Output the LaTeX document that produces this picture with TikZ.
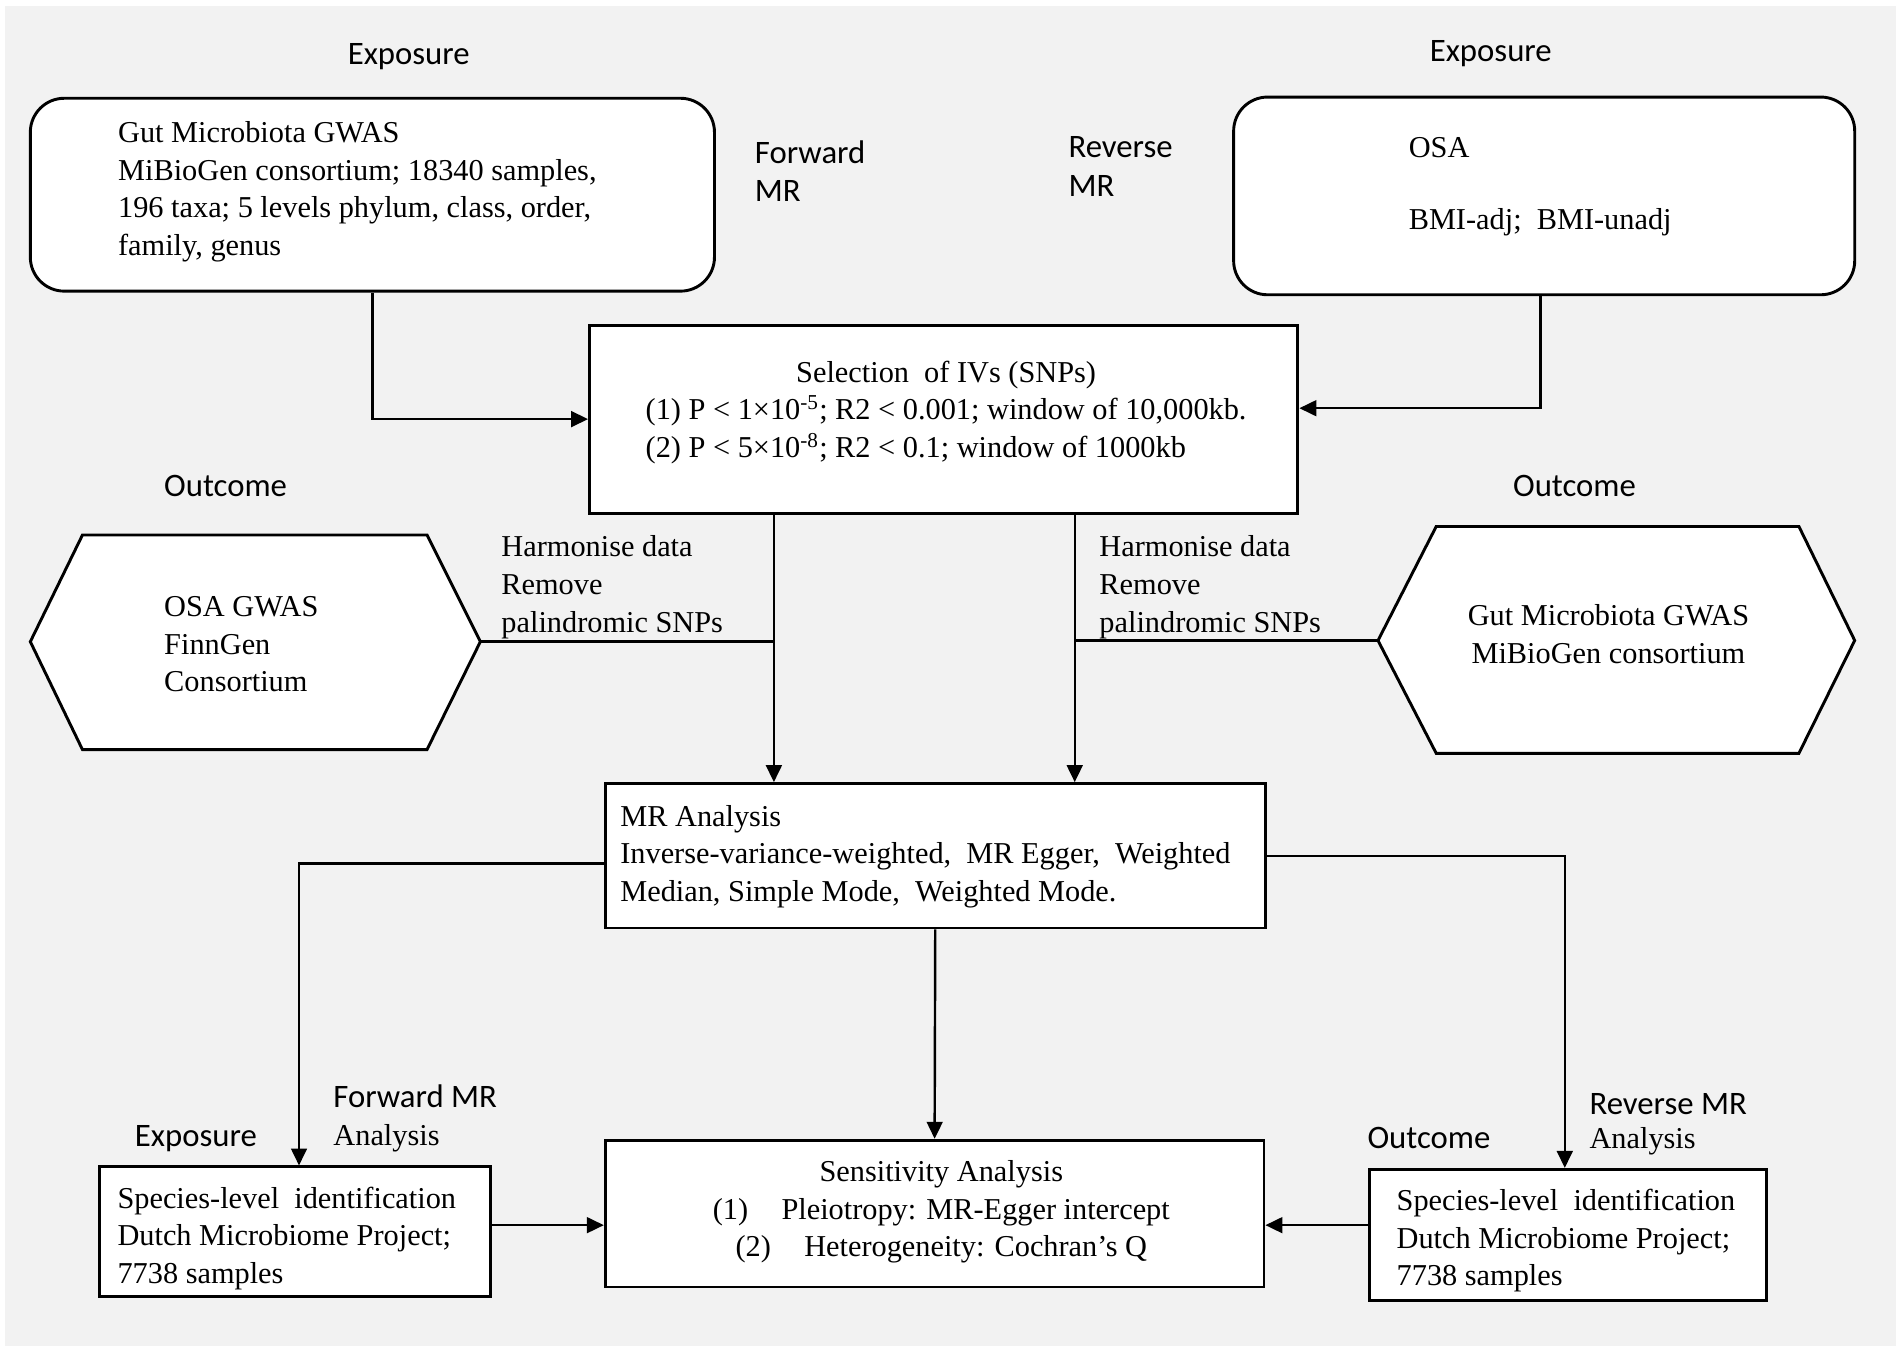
\documentclass[tikz,border=0pt]{standalone}
\usepackage{fontspec}
\setmainfont{Liberation Serif}
\newfontfamily\labfont{Carlito}
\usetikzlibrary{arrows.meta}
\definecolor{bggrey}{HTML}{F2F2F2}
\begin{document}
\begin{tikzpicture}[x=0.5pt,y=-0.5pt,
  box/.style={draw=black, line width=1.2pt, fill=white, inner sep=0pt},
  rbox/.style={box, rounded corners=14pt},
  txt/.style={font=\fontsize{12.5}{15.5}\selectfont, align=left, inner sep=0pt},
  ctxt/.style={font=\fontsize{12.5}{15.5}\selectfont, align=center, inner sep=0pt},
  lbl/.style={font=\labfont\fontsize{13.5}{16}\selectfont, align=left, inner sep=0pt},
  conn/.style={line width=1pt, draw=black},
  arr/.style={conn, -{Triangle[length=7pt,width=6.5pt]}},
  hexa/.style={draw=black, line width=1.2pt, fill=white, line join=miter}]
\useasboundingbox (0,0) rectangle (1568,1116);
\fill[white] (0,0) rectangle (1568,1116);
\fill[bggrey] (4,5) rectangle (1563,1110);

% top boxes
\node[rbox, minimum width=282pt, minimum height=79.5pt] (tl) at (307,160.5) {};
\node[txt, anchor=west] (tlt) at (97,158) {Gut Microbiota GWAS\\MiBioGen consortium; 18340 samples,\\196 taxa; 5 levels phylum, class, order,\\family, genus};
\node[rbox, minimum width=256pt, minimum height=81.5pt] (tr) at (1273,161.5) {};
\node[txt, anchor=west] (osa) at (1161,122) {OSA};
\node[txt, anchor=west] (bmi) at (1161,183) {BMI-adj;~ BMI-unadj};

% labels top
\node[lbl] (expL) at (337,47) {Exposure};
\node[lbl] (expR) at (1229,44) {Exposure};
\node[lbl, anchor=west] (fwd) at (622,141) {Forward\\MR};
\node[lbl, anchor=west] (rev) at (880.5,137) {Reverse\\MR};

% selection box
\node[box, minimum width=292pt, minimum height=77.5pt] (sel) at (778,345.5) {};
\node[ctxt] (selt) at (780,340) {\begin{tabular}{@{}l@{}}\multicolumn{1}{@{}c@{}}{Selection~ of IVs (SNPs)}\\(1) P < 1×10\textsuperscript{-5}; R2 < 0.001; window of 10,000kb.\\(2) P < 5×10\textsuperscript{-8}; R2 < 0.1; window of 1000kb\end{tabular}};

% outcome labels
\node[lbl] (outL) at (186,401) {Outcome};
\node[lbl] (outR) at (1298,401) {Outcome};

% hexagons
\draw[hexa] (25,529) -- (68,441) -- (352,441) -- (396,529) -- (352,618) -- (68,618) -- cycle;
\coordinate (lhR) at (396,529);
\node[txt, anchor=west] (lht) at (135,531) {OSA GWAS\\FinnGen\\Consortium};
\draw[hexa] (1136,528) -- (1184,434) -- (1483,434) -- (1529,528) -- (1483,621) -- (1184,621) -- cycle;
\coordinate (rhL) at (1136,528);
\node[ctxt] (rht) at (1326,523) {Gut Microbiota GWAS\\MiBioGen consortium};

\node[txt, anchor=west] (harmL) at (413,484) {Harmonise data\\Remove\\palindromic SNPs};
\node[txt, anchor=west] (harmR) at (906,484) {Harmonise data\\Remove\\palindromic SNPs};

% MR box
\node[box, minimum width=272pt, minimum height=59.5pt] (mr) at (771,705.5) {};
\node[txt, anchor=west] (mrt) at (511,706) {MR Analysis\\Inverse-variance-weighted,~ MR Egger,~ Weighted\\Median, Simple Mode,~ Weighted Mode.};

% sensitivity box
\node[box, minimum width=271.5pt, minimum height=60.5pt] (sens) at (770.5,1000.5) {};
\node[ctxt] (senst) at (776,999) {Sensitivity Analysis\\(1)\hspace{1.1em}Pleiotropy: MR-Egger intercept\\(2)\hspace{1.1em}Heterogeneity: Cochran’s Q};

% bottom boxes
\node[box, minimum width=161pt, minimum height=53.5pt] (bl) at (243,1015.5) {};
\node[txt, anchor=west] (blt) at (96.5,1021) {Species-level~ identification\\Dutch Microbiome Project;\\7738 samples};
\node[box, minimum width=163.5pt, minimum height=54pt] (br) at (1292.5,1018) {};
\node[txt, anchor=west] (brt) at (1151,1023) {Species-level~ identification\\Dutch Microbiome Project;\\7738 samples};

% bottom labels
\node[lbl] (expB) at (161.5,939) {Exposure};
\node[lbl, anchor=west] (fwdB) at (274.5,904) {Forward MR};
\node[txt, anchor=west] (fwdB2) at (274.5,938) {Analysis};
\node[lbl] (outB) at (1178,938) {Outcome};
\node[lbl, anchor=west] (revB) at (1310,910) {Reverse MR};
\node[txt, anchor=west] (revB2) at (1310,941) {Analysis};

% connectors
\coordinate (vL) at (638,0);
\coordinate (vR) at (886,0);
\draw[arr] (tl.south) |- (sel.west);
\draw[arr] ([xshift=-1.5pt]tr.south) |- ([yshift=4.5pt]sel.east);
\draw[arr] (sel.south -| vL) -- (mr.north -| vL);
\draw[arr] (sel.south -| vR) -- (mr.north -| vR);
\draw[conn] (lhR) -- (lhR -| vL);
\draw[conn] (rhL) -- (rhL -| vR);
\draw[arr] ([yshift=-3.25pt]mr.west) -| ([xshift=1.75pt]bl.north);
\draw[arr] (mr.east) -| ([xshift=-1.25pt]br.north);
\draw[arr] (mr.south) -- (sens.north);
\draw[arr] ([yshift=2.75pt]bl.east) -- ([yshift=2.75pt]bl.east -| sens.west);
\draw[arr] ([yshift=4pt]br.west) -- ([yshift=4pt]br.west -| sens.east);
\end{tikzpicture}
\end{document}
